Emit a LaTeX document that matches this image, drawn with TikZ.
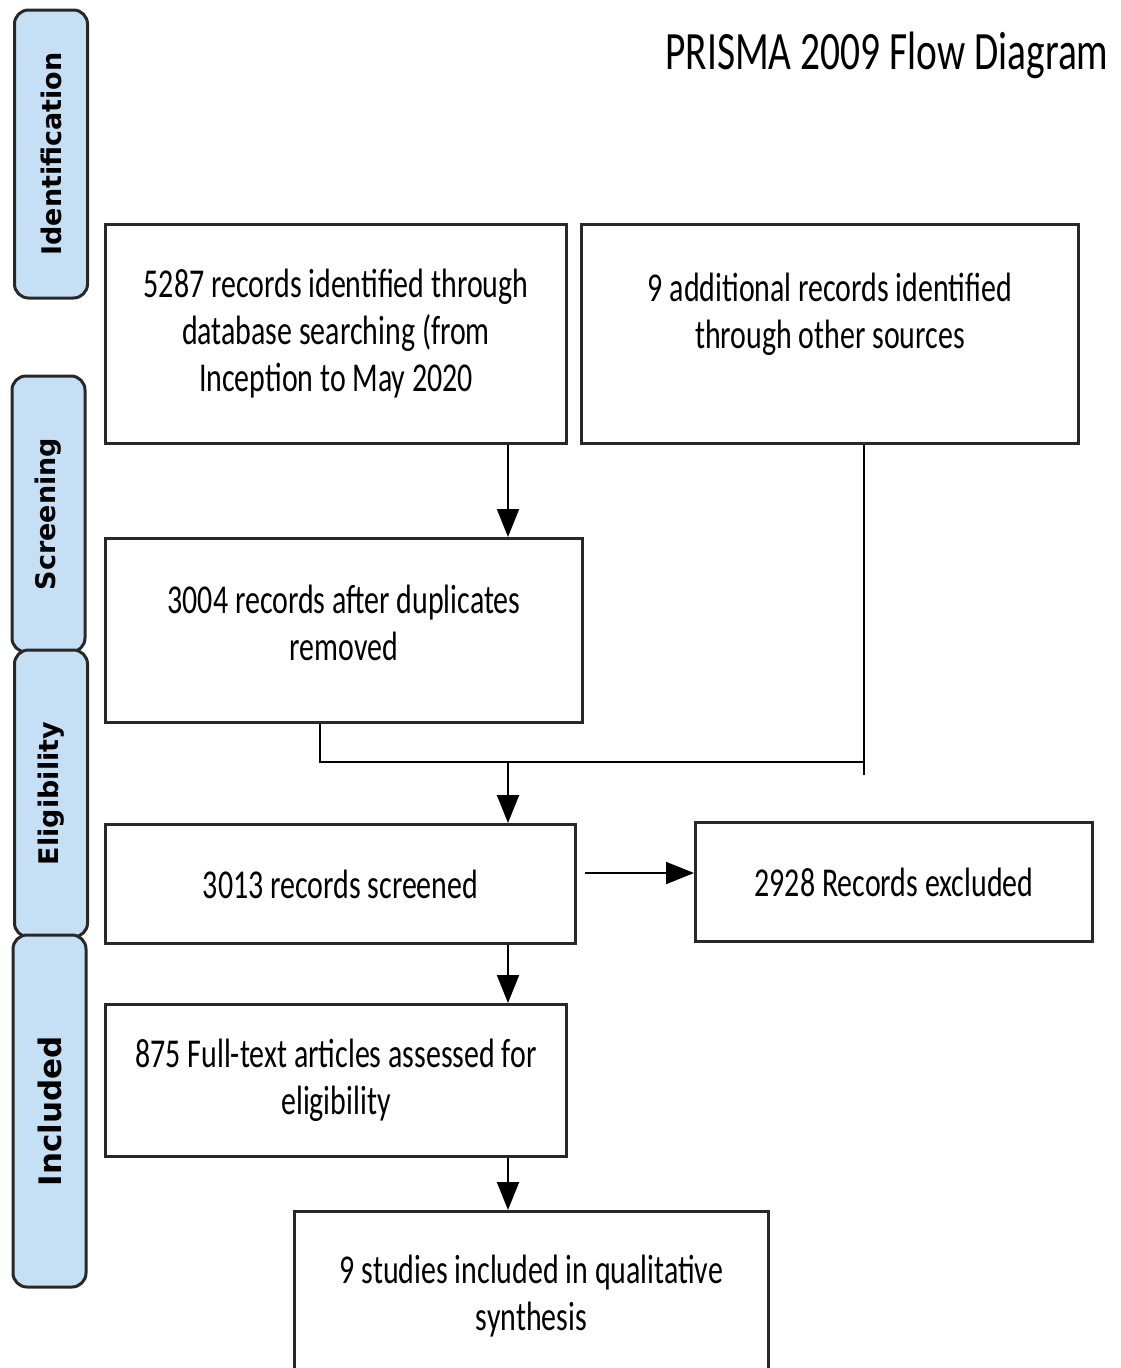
\documentclass[tikz,border=0pt]{standalone}
\usepackage{fontspec}
\setmainfont{Carlito}[FakeStretch=0.73]
\newfontfamily\phasefont{DejaVu Sans}
\usetikzlibrary{arrows.meta,positioning,calc}
\definecolor{prblue}{RGB}{197,224,244}
\definecolor{prline}{RGB}{40,40,40}

\begin{document}
\begin{tikzpicture}[
  x=1pt,y=-1pt,
  every node/.style={font=\fontsize{41}{47}\selectfont},
  recbox/.style={draw=prline,line width=3pt,align=center,anchor=north west,inner sep=0pt},
  phase/.style={draw=prline,line width=3pt,fill=prblue,rounded corners=14pt,rotate=90,
        minimum height=73pt,inner sep=0pt,font=\phasefont\bfseries\fontsize{27}{30}\selectfont},
  link/.style={draw=black,line width=2pt},
  arr/.style={link,-{Triangle[length=28pt,width=22pt]}},
]
  \useasboundingbox (0,0) rectangle (1120,1368);
  % Title
  \node[anchor=east,font=\fontsize{54}{60}\selectfont] (title) at (1112,55) {PRISMA 2009 Flow Diagram};
  % Phase labels
  \node[phase,minimum width=288pt] (ident) at (51,154) {Identification};
  \node[phase,minimum width=276pt] (screen) at (48.5,514) {Screening};
  \node[phase,minimum width=287pt] (elig) at (51,793.5) {Eligibility};
  \node[phase,minimum width=352pt,font=\phasefont\bfseries\fontsize{31}{34}\selectfont] (incl) at (49.5,1111) {Included};
  % Records boxes
  \node[recbox,minimum width=461pt,minimum height=219pt] (search) at (104,223)
    {5287 records identified through\\database searching (from\\Inception to May 2020};
  \node[recbox,minimum width=497pt,minimum height=219pt] (other) at (580,223)
    {9 additional records identified\\through other sources\\\mbox{}};
  \node[recbox,minimum width=477pt,minimum height=184pt] (dedup) at (104,537)
    {3004 records after duplicates\\removed\\[-31pt]\mbox{}};
  \node[recbox,minimum width=470pt,minimum height=119pt] (screened) at (104,823)
    {3013 records screened};
  \node[recbox,minimum width=397pt,minimum height=119pt] (excluded) at (694,821)
    {2928 Records excluded};
  \node[recbox,minimum width=461pt,minimum height=152pt] (fulltext) at (104,1003)
    {875 Full-text articles assessed for\\eligibility};
  \node[recbox,minimum width=474pt,minimum height=170pt] (included) at (293,1210)
    {9 studies included in qualitative\\synthesis};
  % Connectors
  \coordinate (join) at (508,762);
  \draw[arr] (search.south -| join) -- (dedup.north -| join);
  \draw[link] ([xshift=-24.5pt]dedup.south) |- (join);
  \draw[link] ([xshift=33.5pt]other.south) -- ++(0,-330pt);
  \draw[link] ([xshift=33.5pt]other.south) |- (join);
  \draw[arr] (join) -- (screened.north -| join);
  \coordinate (exc) at ([xshift=8pt,yshift=11pt]screened.east);
  \draw[arr] (exc) -- (excluded.west |- exc);
  \draw[arr] (screened.south -| join) -- (fulltext.north -| join);
  \draw[arr] (fulltext.south -| join) -- (included.north -| join);
\end{tikzpicture}
\end{document}
